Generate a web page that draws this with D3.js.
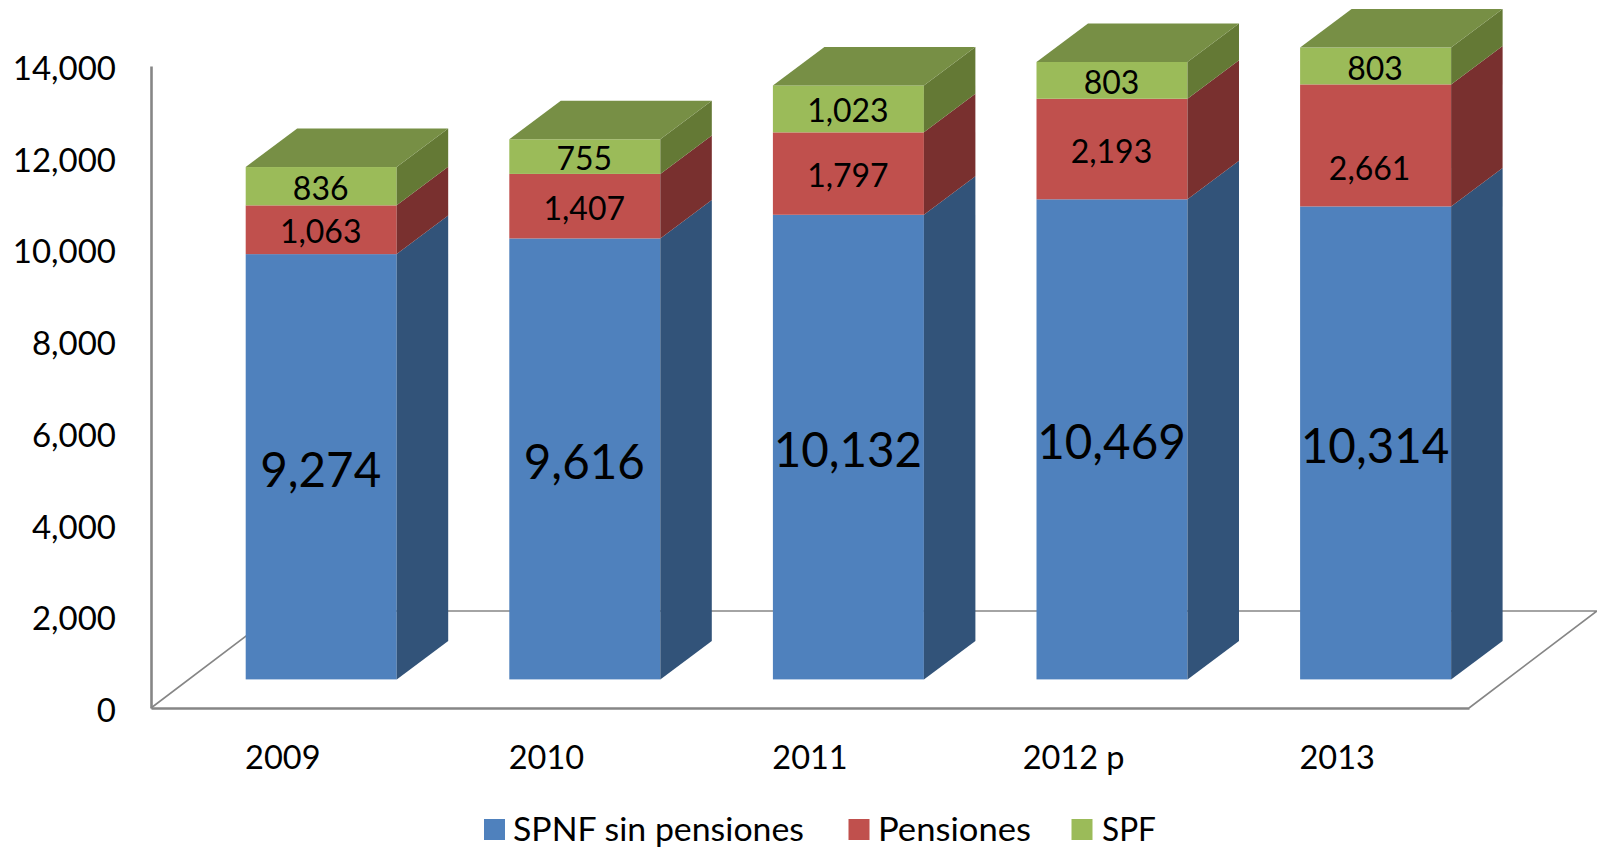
<!DOCTYPE html>
<html>
<head>
<meta charset="utf-8">
<script src="https://cdn.jsdelivr.net/npm/d3@7"></script>
<style>
html,body{margin:0;padding:0;background:#fff;overflow:hidden}
svg{display:block}
text{font-family:Lato,"Open Sans",sans-serif;fill:#000}
</style>
</head>
<body>
<svg id="c" width="1597" height="849"></svg>
<script>
const categories = ["2009","2010","2011","2012 p","2013"];
const spnf = [9274,9616,10132,10469,10314];
const pensiones = [1063,1407,1797,2193,2661];
const spf = [836,755,1023,803,803];
const seriesNames = ["SPNF sin pensiones","Pensiones","SPF"];
const yTicks = [0,2000,4000,6000,8000,10000,12000,14000];
const frontColors = ["#4F81BD","#C0504D","#9BBB59"];
const sideColors = ["#325379","#79302F","#647935"];
const topColor = "#778F45";
const axisColor = "#868686";

const W = 1597, H = 849;
const svg = d3.select("#c");
const y = d3.scaleLinear().domain([0,14000]).range([708,66]);
const x = d3.scaleBand().domain(categories).range([151,1469]);
const fmt = d3.format(",");

// floor of the 3D plot
const floorDx = 128, floorDy = 97;
const x0 = x.range()[0], x1 = x.range()[1], y0 = y(0);
svg.append("path")
  .attr("d", `M${x0},${y0}L${x0+floorDx},${y0-floorDy}L${x1+floorDx},${y0-floorDy}L${x1},${y0}`)
  .attr("fill","none").attr("stroke",axisColor).attr("stroke-width",1.6);

// axes
const yAxis = svg.append("g").attr("transform",`translate(${x0},0)`)
  .call(d3.axisLeft(y).tickValues(yTicks).tickFormat(fmt).tickSize(0).tickPadding(35));
yAxis.select(".domain").attr("stroke",axisColor).attr("stroke-width",2.6);
yAxis.selectAll("text").attr("font-size",33).attr("dy",null).attr("y",13.5);

const xAxis = svg.append("g").attr("transform",`translate(0,${y0})`)
  .call(d3.axisBottom(x).tickSize(0).tickPadding(0));
xAxis.select(".domain").attr("stroke",axisColor).attr("stroke-width",2.6);
xAxis.selectAll("text").attr("font-size",32.5).attr("dy",null).attr("y",61);

// stacked 3D bars
const barW = 151, depthX = 51.5, depthY = 38.5, floorInset = 28.6, barShift = 38.4;
const values = [spnf,pensiones,spf];
const stack = d3.stack().keys([0,1,2]).value((d,k)=>values[k][d]);
const layers = stack(d3.range(categories.length));
const fy = v => y(v) - floorInset;
const bx = i => x(categories[i]) + x.bandwidth()/2 + barShift - barW/2;

const gBars = svg.append("g");
layers.forEach((layer,k)=>{
  layer.forEach((d,i)=>{
    const l = bx(i), r = l + barW, t = fy(d[1]), b = fy(d[0]);
    gBars.append("rect").attr("x",l).attr("y",t).attr("width",barW).attr("height",b-t)
      .attr("fill",frontColors[k]);
    gBars.append("path")
      .attr("d",`M${r},${b}L${r+depthX},${b-depthY}L${r+depthX},${t-depthY}L${r},${t}Z`)
      .attr("fill",sideColors[k]);
    if(k===2){
      gBars.append("path")
        .attr("d",`M${l},${t}L${l+depthX},${t-depthY}L${r+depthX},${t-depthY}L${r},${t}Z`)
        .attr("fill",topColor);
    }
  });
});

// data labels
layers.forEach((layer,k)=>{
  layer.forEach((d,i)=>{
    const size = k===0 ? 47.5 : 32;
    // the reference moved the 2013 Pensiones label away from the segment centre
    const moved = (k===1 && i===4);
    const cx = bx(i)+barW/2 + (moved ? -6 : -0.5);
    const cy = (fy(d[0])+fy(d[1]))/2 + (k===0 ? 3 : 2) + (moved ? 21 : 0);
    svg.append("text").attr("x",cx).attr("y",cy+size*0.36)
      .attr("text-anchor","middle").attr("font-size",size)
      .text(fmt(values[k][i]));
  });
});

// legend
const legendX = [484,848.5,1071.5];
const legendTextX = [513,878,1102];
const legendTextW = [291,153,54];
const gLegend = svg.append("g");
seriesNames.forEach((n,i)=>{
  gLegend.append("rect").attr("x",legendX[i]).attr("y",819).attr("width",21).attr("height",21)
    .attr("fill",frontColors[i]);
  gLegend.append("text").attr("x",legendTextX[i]).attr("y",841).attr("font-size",33)
    .attr("textLength",legendTextW[i]).attr("lengthAdjust","spacingAndGlyphs").text(n);
});
</script>
</body>
</html>
